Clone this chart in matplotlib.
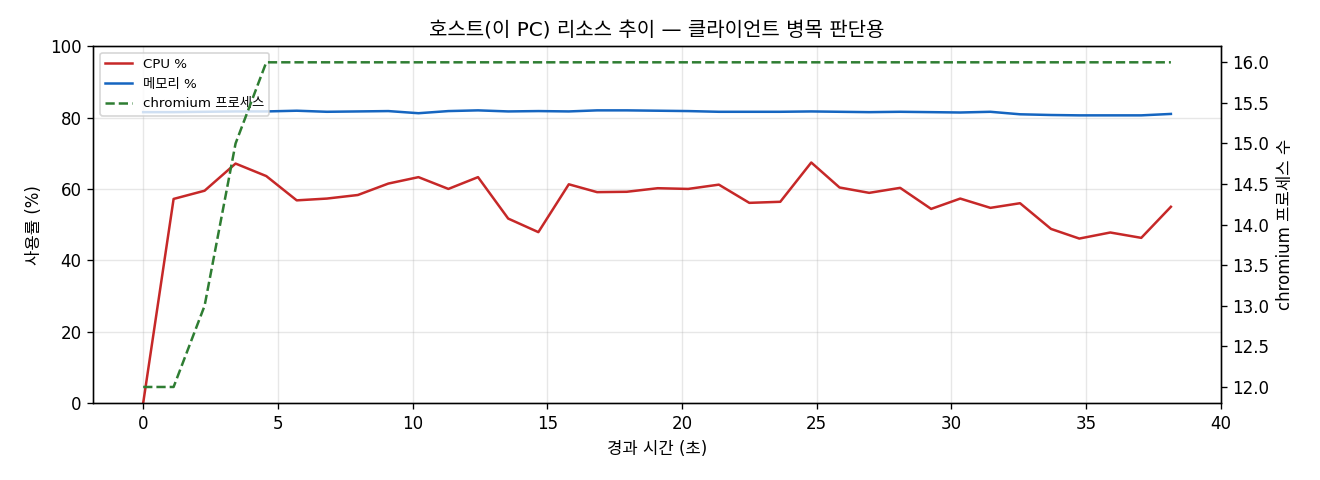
import matplotlib
matplotlib.use('Agg')
import matplotlib.pyplot as plt

plt.rcParams['font.family'] = ['DejaVu Sans', 'Noto Sans CJK KR']
plt.rcParams['axes.unicode_minus'] = False

# elapsed seconds of each sample
t = [0.0, 1.13, 2.28, 3.43, 4.57, 5.70, 6.82, 7.97, 9.10, 10.22,
     11.33, 12.43, 13.55, 14.67, 15.80, 16.85, 17.95, 19.10, 20.23, 21.37,
     22.50, 23.65, 24.80, 25.85, 26.95, 28.10, 29.25, 30.33, 31.45, 32.55,
     33.70, 34.75, 35.90, 37.05, 38.15]

cpu = [0.0, 57.2, 59.5, 67.1, 63.6, 56.8, 57.3, 58.3, 61.5, 63.3,
       60.0, 63.3, 51.7, 47.9, 61.3, 59.1, 59.2, 60.2, 60.0, 61.2,
       56.1, 56.4, 67.4, 60.4, 58.9, 60.3, 54.4, 57.3, 54.7, 56.0,
       48.8, 46.1, 47.8, 46.3, 55.0]

mem = [81.5, 81.5, 81.6, 81.7, 81.7, 81.9, 81.6, 81.7, 81.8, 81.2,
       81.8, 82.0, 81.7, 81.8, 81.7, 82.0, 82.0, 81.9, 81.8, 81.6,
       81.6, 81.6, 81.7, 81.6, 81.5, 81.6, 81.5, 81.4, 81.6, 80.9,
       80.7, 80.6, 80.6, 80.6, 81.0]

chromium = [12, 12, 13, 15, 16, 16, 16, 16, 16, 16,
            16, 16, 16, 16, 16, 16, 16, 16, 16, 16,
            16, 16, 16, 16, 16, 16, 16, 16, 16, 16,
            16, 16, 16, 16, 16]

RED = '#c62828'
BLUE = '#1565c0'
GREEN = '#2e7d32'

fig, ax = plt.subplots(figsize=(11, 4), dpi=120)
fig.subplots_adjust(left=0.0707, right=0.9248, top=0.904, bottom=0.160)

l1, = ax.plot(t, cpu, color=RED, linewidth=1.5, label='CPU %')
l2, = ax.plot(t, mem, color=BLUE, linewidth=1.5, label='메모리 %')
ax.set_ylim(0, 100)
ax.set_xlim(-1.85, 40.0)
ax.set_xlabel('경과 시간 (초)')
ax.set_ylabel('사용률 (%)')
ax.grid(True, alpha=0.3)

ax2 = ax.twinx()
l3, = ax2.plot(t, chromium, color=GREEN, linewidth=1.5, linestyle='--',
               label='chromium 프로세스')
ax2.set_ylabel('chromium 프로세스 수')

ax.set_title('호스트(이 PC) 리소스 추이 — 클라이언트 병목 판단용')
ax.legend(handles=[l1, l2, l3], loc='upper left', fontsize=8)

fig.savefig('out.png', dpi=120, facecolor='white')
